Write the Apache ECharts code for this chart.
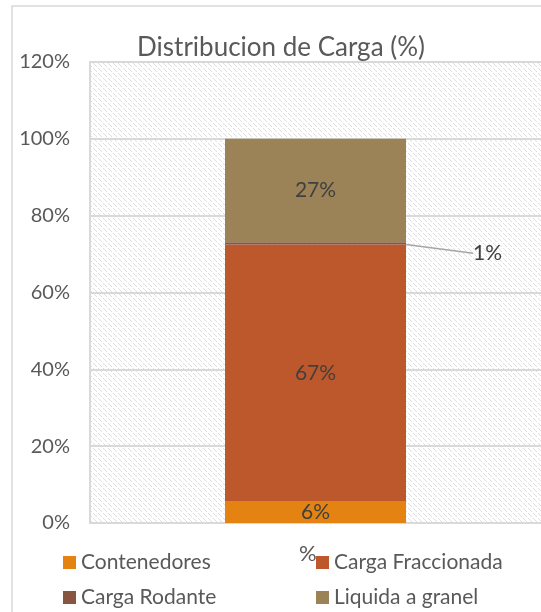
<!DOCTYPE html>
<html><head><meta charset="utf-8">
<script src="https://cdn.jsdelivr.net/npm/echarts@6/dist/echarts.min.js"></script>
<style>html,body{margin:0;padding:0;background:#fff}#c{width:541px;height:612px}</style>
</head><body><div id="c"></div>
<script>
const categories = ['%'];
const seriesNames = ['Contenedores', 'Carga Fraccionada', 'Carga Rodante', 'Liquida a granel'];
const contenedores = [5.7];
const cargaFraccionada = [66.8];
const cargaRodante = [0.6];
const liquidaGranel = [26.9];
const yTicks = [0, 20, 40, 60, 80, 100, 120];
const colors = ['#E48312', '#BD582C', '#865640', '#9B8357'];
const FONT = 'Lato';

const pc = document.createElement('canvas');
pc.width = 5; pc.height = 5;
const pctx = pc.getContext('2d');
pctx.fillStyle = '#fff'; pctx.fillRect(0,0,5,5);
pctx.fillStyle = '#dedede';
for (let i=0;i<5;i++) if (i !== 2) pctx.fillRect(i,i,1,1);

const chart = echarts.init(document.getElementById('c'));
const lbl = {show:true, position:'inside', color:'#404040', fontSize:21, fontFamily:FONT,
  formatter: p => Math.round(p.value) + '%'};
const legendBase = {icon:'rect', itemWidth:13, itemHeight:13, itemGap:8,
  textStyle:{color:'#595959', fontSize:21, fontFamily:FONT}, selectedMode:false};
chart.setOption({
  animation:false,
  title:{text:'Distribucion de Carga (%)', left:276, textAlign:'center', top:30,
    textStyle:{color:'#595959', fontSize:26, fontWeight:'normal', fontFamily:FONT}},
  grid:{left:90, width:457, top:62, bottom:89, show:true, backgroundColor:{image:pc, repeat:'repeat'}, borderWidth:0},
  xAxis:{type:'category', data:categories, axisLine:{show:true, lineStyle:{color:'#d9d9d9', width:2}},
    axisTick:{show:false}, axisLabel:{show:false}},
  yAxis:{type:'value', min:yTicks[0], max:yTicks[yTicks.length-1], interval:20,
    axisLine:{show:true, lineStyle:{color:'#d9d9d9', width:2}}, axisTick:{show:false},
    splitLine:{lineStyle:{color:'#d9d9d9', width:2}},
    axisLabel:{formatter:'{value}%', color:'#595959', fontSize:20, fontFamily:FONT, margin:20}},
  legend:[
    Object.assign({data:[seriesNames[0]], left:58, top:547}, legendBase),
    Object.assign({data:[seriesNames[1]], left:311, top:547}, legendBase),
    Object.assign({data:[seriesNames[2]], left:58, top:582}, legendBase),
    Object.assign({data:[seriesNames[3]], left:311, top:582}, legendBase)
  ],
  graphic:[
    {type:'rect', shape:{x:12, y:6, width:540, height:620}, style:{fill:'none', stroke:'#d9d9d9', lineWidth:1.5}, silent:true, z:-10},
    {type:'text', left:299, top:543, style:{text:'%', fill:'#595959', fontSize:22, fontFamily:FONT}}
  ],
  series:[
    {name:seriesNames[0], type:'bar', stack:'s', data:contenedores, barWidth:181, itemStyle:{color:colors[0]}, label:lbl},
    {name:seriesNames[1], type:'bar', stack:'s', data:cargaFraccionada, itemStyle:{color:colors[1]}, label:lbl},
    {name:seriesNames[2], type:'bar', stack:'s', data:cargaRodante, itemStyle:{color:colors[2]},
      label:Object.assign({}, lbl, {position:'right', distance:5}),
      labelLayout:{dx:62, dy:10}, labelLine:{show:true, lineStyle:{color:'#a6a6a6', width:1.5}}},
    {name:seriesNames[3], type:'bar', stack:'s', data:liquidaGranel, itemStyle:{color:colors[3]}, label:lbl}
  ]
});
</script></body></html>
